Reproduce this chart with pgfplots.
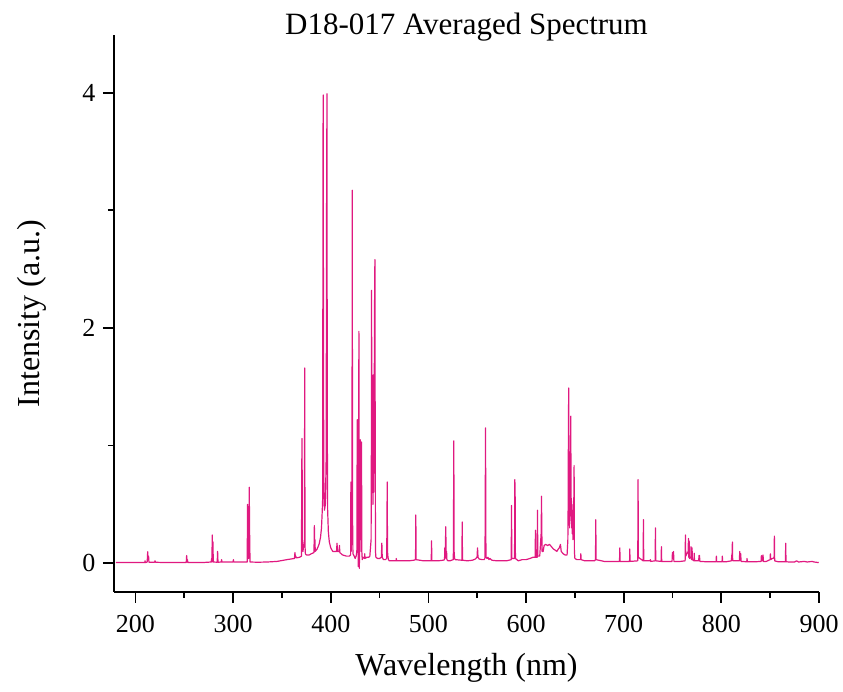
\documentclass[border=0pt]{standalone}
\usepackage{fontspec}
\setmainfont{Liberation Serif}
\usepackage{pgfplots}
\pgfplotsset{compat=1.18}
\definecolor{spec}{RGB}{224,25,128}
\begin{document}
\begin{tikzpicture}
\useasboundingbox (-114pt,-100pt) rectangle (729pt,592pt);
\begin{axis}[
  at={(0,0)}, anchor=south west,
  scale only axis, width=705pt, height=557pt,
  xmin=178, xmax=900, ymin=-0.245, ymax=4.49,
  axis x line=bottom, axis y line=left,
  axis line style={-, line width=1.8pt},
  xtick={200,300,...,900}, ytick={0,2,4},
  minor x tick num=1, minor y tick num=1,
  tick align=outside,
  major tick length=11pt, minor tick length=6pt,
  tick style={line width=1.8pt, black},
  tick label style={font=\fontsize{26}{30}\selectfont, /pgf/number format/assume math mode=true},
  xticklabel style={yshift=-9pt},
  yticklabel style={xshift=-4pt},
  scaled ticks=false,
  title={D18-017 Averaged Spectrum},
  title style={font=\fontsize{31}{36}\selectfont, at={(axis description cs:0.5,1)}, anchor=center, yshift=2pt},
  xlabel={Wavelength (nm)},
  xlabel style={font=\fontsize{32}{38}\selectfont, at={(axis description cs:0.5,-0.136)}, anchor=center},
  ylabel={Intensity (a.u.)},
  ylabel style={font=\fontsize{32}{38}\selectfont, at={(axis description cs:-0.116,0.5)}, anchor=center},
]
% averaged spectrum
\addplot[spec, line width=1.2pt, line join=round] coordinates {
(180,0.005) (200,0.005)
(209.5,0.005) (209.8,0.02) (210.1,0.005)
(212.0,0.01) (212.5,0.097) (212.9,0.03) (213.4,0.06) (213.8,0.008)
(219.6,0.008) (220.0,0.02) (220.4,0.008) (230,0.005) (240,0.005)
(252.0,0.006) (252.4,0.065) (252.8,0.02) (253.2,0.03) (253.6,0.006)
(260,0.005) (270,0.006)
(277.5,0.01) (278.0,0.04) (278.3,0.01) (278.6,0.24) (279.0,0.12) (279.3,0.18) (279.7,0.01)
(283.7,0.008) (284.1,0.10) (284.5,0.008)
(288.0,0.01) (288.2,0.03) (288.5,0.01)
(300.0,0.01) (300.3,0.03) (300.6,0.01) (308,0.01)
(314.4,0.01) (314.8,0.50) (315.2,0.06) (315.7,0.04) (316.1,0.2) (316.5,0.645) (316.9,0.25) (317.3,0.01)
(325,0.008) (335,0.01) (345,0.015) (355,0.03)
(362.8,0.04) (363.3,0.09) (363.8,0.05) (364.2,0.06) (364.6,0.045) (368,0.05)
(370.0,0.06) (370.3,0.83) (370.6,1.06) (370.9,0.12) (371.5,0.1) (373.0,0.2) (373.3,1.66) (373.6,0.15) (374.0,0.08)
(375,0.07) (378,0.07) (380,0.08)
(382.8,0.09) (383.2,0.32) (383.5,0.15) (383.8,0.2) (384.1,0.1)
(386,0.12) (388,0.16) (389.5,0.22) (390.5,0.3) (391.3,0.45)
(391.7,0.55) (392.0,3.18) (392.2,3.98) (392.5,2.2) (392.8,0.75) (393.5,0.45) (394.5,0.5)
(395.3,0.9) (395.7,3.0) (396.1,3.99) (396.4,1.2) (396.8,0.45) (397.5,0.27) (398.5,0.18)
(400,0.13) (402,0.1)
(405.9,0.1) (406.4,0.17) (406.9,0.1) (408.5,0.1) (408.9,0.15) (409.3,0.09)
(412,0.07) (416,0.06) (419,0.06)
(420.3,0.07) (420.6,0.69) (420.9,0.1) (421.7,0.38) (422.0,3.17) (422.3,0.4) (422.7,0.08)
(424,0.06) (425,0.04) (426,0.06)
(426.7,0.1) (427.0,0.95) (427.2,1.22) (427.4,0.4) (427.6,0.9) (427.8,0.2) (428.0,0.7) (428.2,-0.03)
(428.5,0.5) (428.8,1.97) (429.1,0.1) (429.3,-0.045) (429.6,0.9) (429.9,0.3) (430.2,1.05) (430.5,0.2)
(430.8,1.0) (431.1,0.1) (431.5,1.03) (431.8,0.1) (432.2,0.03) (433,0.05)
(434.5,0.04) (434.8,0.08) (435.1,0.04) (437,0.05) (439,0.05) (440,0.06)
(441.3,0.2) (441.6,1.05) (441.8,2.32) (442.0,1.0) (442.3,1.5) (442.6,0.6) (442.9,1.05) (443.2,0.5)
(443.5,1.6) (443.8,0.6) (444.1,1.05) (444.4,0.8) (444.7,2.0) (445.0,2.4) (445.2,2.58) (445.5,1.1)
(445.8,0.1) (446.2,0.05) (448,0.04) (450,0.04)
(451.8,0.05) (452.3,0.17) (452.7,0.05) (454,0.03) (456,0.03)
(457.2,0.04) (457.5,0.27) (457.8,0.69) (458.1,0.1) (458.5,0.06) (459,0.03)
(460,0.02) (464,0.02) (466.8,0.02) (467.1,0.04) (467.4,0.02) (475,0.02) (480,0.02) (485,0.025)
(486.8,0.03) (487.1,0.41) (487.4,0.03) (495,0.02) (500,0.02)
(502.9,0.02) (503.2,0.19) (503.5,0.02) (510,0.02) (515,0.025)
(516.5,0.03) (516.8,0.13) (517.1,0.05) (517.5,0.2) (517.8,0.31) (518.1,0.04) (518.6,0.1) (518.9,0.03)
(520,0.02) (522,0.02)
(525.5,0.03) (525.8,0.57) (526.0,1.04) (526.3,0.1) (526.8,0.04) (527.5,0.03)
(534.3,0.025) (534.6,0.35) (534.9,0.025)
(540,0.02) (545,0.025) (548,0.035) (549.8,0.05) (550.3,0.13) (550.8,0.05) (552,0.035) (555,0.03) (557,0.03)
(557.8,0.04) (558.1,0.27) (558.3,0.75) (558.5,1.15) (558.8,0.2) (559.1,0.05)
(560,0.04) (561,0.05) (562,0.03) (563,0.04) (565,0.025) (570,0.02) (575,0.02) (580,0.02)
(584.8,0.03) (585.1,0.49) (585.4,0.04) (588.2,0.04) (588.5,0.71) (588.8,0.6) (589.1,0.04)
(592,0.02) (596,0.03) (600,0.03) (604,0.04) (607,0.05)
(609.3,0.05) (609.6,0.28) (609.9,0.05) (611.4,0.05) (611.7,0.45) (612.0,0.06)
(614,0.06) (615.5,0.26) (615.8,0.57) (616.1,0.3) (616.4,0.1)
(617.5,0.1) (618.5,0.15) (620,0.16) (622,0.15) (624,0.16) (626,0.14) (628,0.12) (630,0.11)
(631.5,0.1) (633,0.12) (634,0.13) (635.2,0.16) (636,0.1) (638,0.08) (640,0.07) (642,0.07)
(642.8,0.2) (643.1,0.5) (643.4,1.2) (643.7,1.49) (644.0,0.5) (644.3,0.58) (644.6,0.3) (644.9,0.6)
(645.2,0.4) (645.5,1.0) (645.8,1.25) (646.1,0.4) (646.4,0.55) (646.7,0.3) (647.0,0.5) (647.3,0.25)
(647.6,0.45) (648.0,0.2) (648.5,0.3) (649.0,0.6) (649.2,0.83) (649.5,0.1) (650,0.04)
(652,0.03) (655.8,0.03) (656.1,0.08) (656.4,0.03) (660,0.02) (665,0.02) (670,0.02)
(671.1,0.03) (671.4,0.37) (671.7,0.03) (680,0.015) (690,0.015)
(695.7,0.015) (696.0,0.13) (696.3,0.015) (706.0,0.015) (706.2,0.12) (706.5,0.015)
(714.4,0.02) (714.7,0.71) (715.0,0.05) (719.9,0.02) (720.2,0.37) (720.5,0.02)
(727.0,0.02) (727.3,0.03) (727.6,0.015) (732.2,0.02) (732.5,0.30) (732.8,0.02)
(738.3,0.015) (738.6,0.14) (738.9,0.015) (745,0.015)
(749.5,0.015) (749.9,0.09) (750.3,0.06) (751.0,0.1) (751.4,0.015) (758,0.015)
(762.9,0.02) (763.2,0.24) (763.5,0.06) (766.0,0.1) (766.3,0.21) (766.6,0.05) (767.0,0.19) (767.3,0.04)
(768.8,0.05) (769.0,0.14) (769.3,0.03) (769.8,0.04) (770.0,0.13) (770.3,0.03) (772.0,0.02) (772.2,0.085) (772.5,0.02)
(776.8,0.02) (777.1,0.065) (777.4,0.03) (777.6,0.065) (778.0,0.015) (785,0.012)
(794.6,0.012) (794.9,0.06) (795.2,0.012) (800.7,0.012) (801.0,0.06) (801.3,0.012) (805,0.012)
(810.3,0.02) (810.6,0.06) (811.0,0.08) (811.3,0.18) (811.6,0.02)
(818.5,0.02) (818.8,0.10) (819.1,0.03) (819.8,0.08) (820.2,0.015)
(826.0,0.012) (826.3,0.04) (826.6,0.012) (835,0.012)
(840.7,0.015) (841.0,0.065) (841.3,0.02) (842.4,0.02) (842.7,0.07) (843.0,0.015)
(846,0.015) (849.9,0.03) (850.2,0.08) (850.5,0.03) (852,0.04) (853,0.04) (854.0,0.05) (854.3,0.23) (854.6,0.02)
(858,0.012) (865.6,0.012) (865.9,0.17) (866.2,0.012)
(870,0.01) (875,0.01) (877,0.02) (879,0.01) (885,0.015) (888,0.01) (893,0.015) (895,0.01) (899.7,0.005)
};
\end{axis}
\end{tikzpicture}
\end{document}
